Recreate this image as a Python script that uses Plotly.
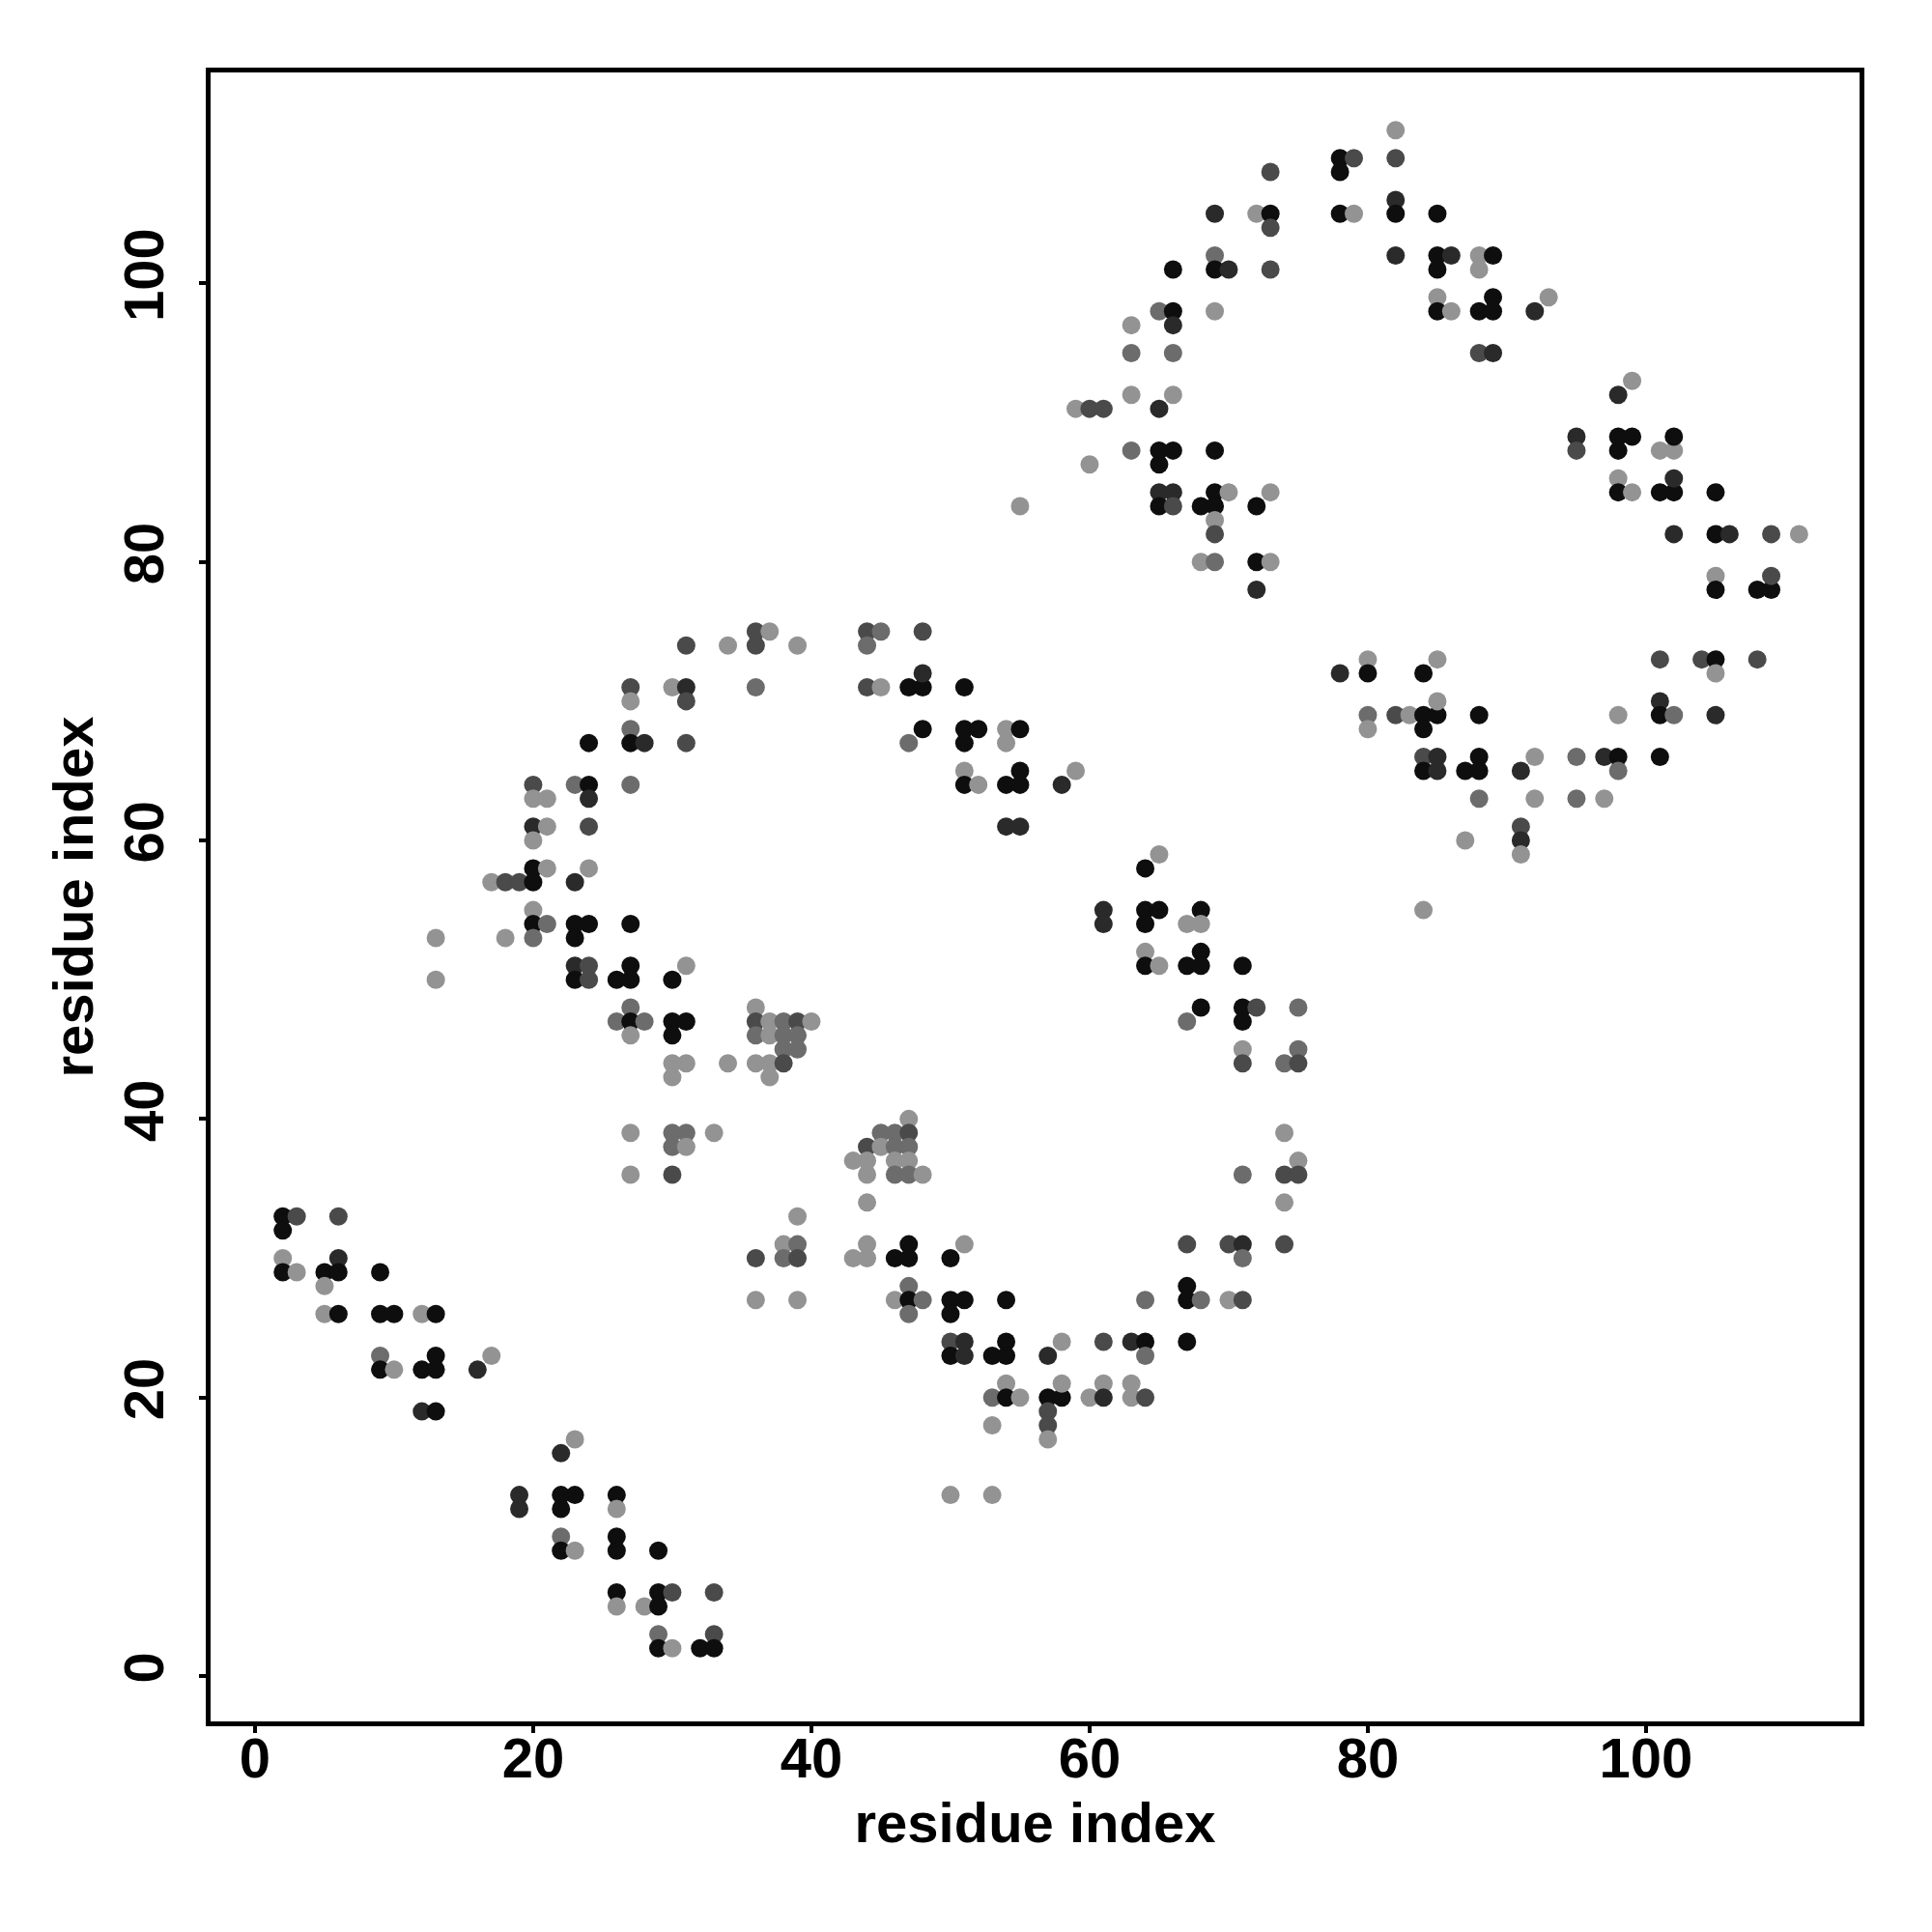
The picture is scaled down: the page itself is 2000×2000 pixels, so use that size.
import plotly.graph_objects as go

# ---- contact points, grouped by region (x = residue i, y = residue j, s = shade level 1..5) ----
xa = [2,3,6,2,2,6,2,3,5,6, 9,5,5,6,9,10,12,13,9,9, 10,12,13,13,16,17,12,13]
ya = [33,33,33,32,30,30,29,29,29,29, 29,28,26,26,26,26,26,26,23,22, 22,22,23,22,22,23,19,19]
sa = [1,3,3,1,5,2,1,5,1,1, 1,5,5,1,1,1,5,1,4,1, 5,1,1,1,2,5,2,1]

xb = [19,19,22,23,22,23,22,26,26,22, 22,23,26,26,29,26,26,28,29,29, 30,33,29,29,30,32,33,33]
yb = [13,12,16,17,13,13,12,13,12,10, 9,9,10,9,9,6,5,5,6,5, 6,6,3,2,2,2,3,2]
sb = [2,2,2,5,1,1,1,1,5,4, 1,5,1,1,1,1,5,5,1,1, 3,3,4,1,5,1,3,1]

xc = [31,34,36,37,36,39,27,30,31,27, 31,36,27,24,27,28,31,20,23,24, 27,20,21,24,20,21,24,20,20,21,
      24,17,18,19,20,23,20,20,21,23, 24,27,13,18,20,23,23,24,27,31, 13,23,24,26,27,30]
yc = [74,74,75,75,74,74,71,71,71,70, 70,71,68,67,67,67,67,64,64,64, 64,63,63,63,61,61,61,60,58,58,
      58,57,57,57,57,57,55,54,54,54, 54,54,53,53,53,53,51,51,51,51, 50,50,50,50,50,50]
sc = [3,5,3,5,3,5,3,5,2,5, 3,4,4,1,1,2,3,3,4,1, 4,5,5,2,2,5,3,5,1,5,
      5,5,3,3,1,2,5,1,4,1, 1,1,5,5,4,1,2,3,1,5, 5,1,3,1,1,1]

xd = [27,26,27,28,27,30,31,30,36,36, 37,38,39,40,36,37,38,39,38,39, 30,31,30,34,36,37,38,37,27,30, 31,33,30,31,27,30]
yd = [48,47,47,47,46,47,47,46,48,47, 47,47,47,47,46,46,46,46,45,45, 44,44,43,44,44,44,44,43,39,39, 39,39,38,38,36,36]
sd = [4,4,1,4,5,1,1,1,5,3, 5,4,3,5,4,5,4,4,4,4, 5,5,5,5,5,5,3,5,5,4, 4,5,4,5,5,3]

xe = [47,45,46,47,44,45,46,47,43,44, 46,47,44,46,47,48,44,39,38,39, 36,38,39,43,44,44,46,47,47,50,
      51,36,39,46,47,47,48,47,50,51, 50,54,50,51,50,51,53,54,54,57, 58,53,54,54,55,57,58,58,57,57, 57,53,50,53]
ye = [40,39,39,39,38,38,38,38,37,37, 37,37,36,36,36,36,34,33,31,31, 30,30,30,30,31,30,30,31,30,30,
      31,27,27,27,28,27,27,26,27,27, 26,27,24,24,23,23,23,24,23,23, 24,20,21,20,20,20,20,21,19,18, 17,18,13,13]
se = [5,4,4,3,3,5,4,4,5,5, 5,5,5,4,4,5,5,5,5,4, 3,4,3,5,5,5,1,1,1,1,
      5,5,5,5,4,1,4,4,1,1, 1,1,3,2,1,2,1,1,1,2, 5,4,5,1,5,1,1,5,3,3, 5,5,5,5]

xf = [65,64,61,61,64,65,64,67,68,68, 64,64,65,67,68,68,71,67,68,71, 72,71,75,71,71,74,75,75,74,75,
      74,75,71,74,67,70,71,71,74,64, 67,67,68,70,71,61,63,64,64,67, 60,61,61,63,63,64]
yf = [59,58,55,54,55,55,54,54,55,54, 52,51,51,51,52,51,51,47,48,48, 48,47,48,45,44,44,45,44,39,37,
      36,36,36,34,31,31,31,30,31,27, 28,27,27,27,27,24,24,24,23,24, 20,21,20,21,20,20]
sf = [5,1,2,2,1,1,1,5,1,5, 5,1,5,1,1,1,1,4,1,1, 3,1,4,5,3,4,4,3,5,5,
      3,3,4,5,3,3,2,4,3,4, 1,1,4,5,3,3,2,1,4,1, 5,5,2,5,5,3]

xg = [44,45,44,48,44,45,47,48,48,51, 48,47,51,52,51,54,55,54,51,51, 52,54,55,55,58,59,54,55]
yg = [75,75,74,75,71,71,71,71,72,71, 68,67,68,68,67,68,68,67,65,64, 64,64,65,64,64,65,61,61]
sg = [3,4,4,3,3,5,1,1,2,1, 1,4,1,1,1,5,1,5,5,1, 5,1,1,1,2,5,2,2]

xh = [73,78,78,78,69,72,73,73,69,69, 70,66,73,65,66,66,69,63,63,66, 63,66,59,60,61,65,60,63,65,66,
      65,69,65,66,65,66,68,69,69,70, 69,69,72,73,68,69,72,73,72,55]
yh = [108,109,108,105,105,105,105,104,102,101, 101,101,101,98,98,97,98,97,95,95, 92,92,91,91,91,91,87,88,88,88,
      87,88,85,85,84,84,84,85,84,85, 83,82,84,85,80,80,80,80,78,84]
sh = [3,1,1,1,2,5,1,3,4,1, 2,1,3,4,1,2,5,5,4,4, 5,5,5,3,3,2,5,4,1,1,
      1,1,2,2,1,3,1,1,1,5, 5,3,1,5,5,4,1,5,2,5]

xi = [82,79,82,79,82,82,85,82,85,86, 88,89,88,85,85,85,86,88,89,89, 92,93,88,89]
yi = [111,109,109,105,106,105,105,102,102,102, 102,102,101,101,99,98,98,98,99,98, 98,99,95,95]
si = [5,3,3,5,2,1,1,2,1,2, 5,1,5,1,5,1,5,1,1,1, 2,5,3,2]

xj = [95,95,78,80,80,84,85,80,80,82, 83,84,85,85,84,88,84,85,84,85, 87,88,88,91,92,95,95,88,92,87, 91,91,91,84]
yj = [89,88,72,73,72,72,73,69,68,69, 69,69,69,70,68,69,66,66,65,65, 65,66,65,65,66,66,63,63,63,60, 61,60,59,55]
sj = [2,3,2,5,1,1,5,4,5,3, 5,1,1,5,1,1,3,2,1,2, 1,1,1,2,5,4,4,4,5,5, 3,2,5,5]

xk = [99,98,98,99,98,101,102,102,98,98, 99,101,102,102,105,102,105,106,109,111,
      105,105,108,109,109,101,104,105,105,108, 98,101,101,102,105,97,98,98,101,97]
yk = [93,92,89,89,88,88,88,89,86,85, 85,85,85,86,85,82,82,82,82,82,
      79,78,78,78,79,73,73,73,72,73, 69,70,69,69,69,66,66,65,66,63]
sk = [5,2,1,1,1,5,5,1,5,1, 5,1,1,2,1,2,1,2,3,5,
      5,1,1,1,3,3,3,1,5,3, 5,2,1,4,2,2,1,4,1,5]

shade_colors = {1: "#0e0e0e", 2: "#2a2a2a", 3: "#4a4a4a", 4: "#6c6c6c", 5: "#939393"}
tick_vals = [0, 20, 40, 60, 80, 100]
axis_title = "residue index"

x_all = xa + xb + xc + xd + xe + xf + xg + xh + xi + xj + xk
y_all = ya + yb + yc + yd + ye + yf + yg + yh + yi + yj + yk
s_all = sa + sb + sc + sd + se + sf + sg + sh + si + sj + sk

fig = go.Figure(go.Scatter(
    x=x_all, y=y_all, mode="markers",
    marker=dict(size=19, color=[shade_colors[s] for s in s_all], line=dict(width=0)),
    hoverinfo="skip", showlegend=False))

fnt = dict(family="Liberation Sans", size=58, color="black", weight="bold")
common = dict(showgrid=False, zeroline=False, showline=True, linecolor="black", linewidth=5,
              mirror=True, ticks="outside", ticklen=7, tickwidth=4, tickcolor="black",
              tickvals=tick_vals, tickfont=fnt)

fig.update_layout(
    width=2000, height=2000,
    margin=dict(l=210, r=83, t=67, b=226),
    paper_bgcolor="white", plot_bgcolor="white",
    font=fnt,
    xaxis=dict(range=[-3.19, 115.35], ticklabelstandoff=-24,
               title=dict(text=axis_title, font=fnt, standoff=17), **common),
    yaxis=dict(range=[-3.26, 115.15], tickangle=-90, ticklabelstandoff=14,
               title=dict(text=axis_title, font=fnt, standoff=2), **common),
)

fig.write_html("out.html")
